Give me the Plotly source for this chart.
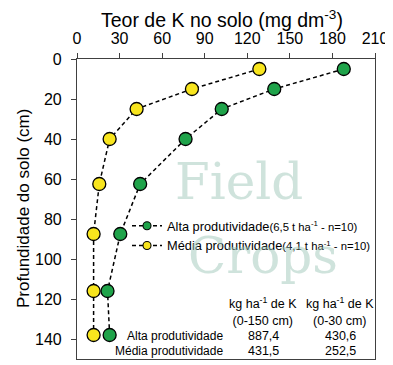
import plotly.graph_objects as go

# ---- data ----
depth_cm = [5, 15, 25, 40, 62.5, 87.5, 116, 138]
k_alta = [188, 139, 102, 76.5, 44.5, 30.5, 21.5, 23]
k_media = [128.5, 81, 42, 23, 15.7, 11.7, 11.7, 11.7]

series_names = [
    "Alta produtividade<span style='font-size:11.3px'>(6,5 t ha<sup>-1</sup> - n=10)</span>",
    "Média produtividade<span style='font-size:11.3px'>(4,1 t ha<sup>-1</sup> - n=10)</span>",
]
series_colors = ["#1fa34a", "#f8e51e"]

x_ticks = [0, 30, 60, 90, 120, 150, 180, 210]
y_ticks = [0, 20, 40, 60, 80, 100, 120, 140]

table_rows = ["Alta produtividade", "Média produtividade"]
table_headers = ["kg ha<sup>-1</sup> de K<br>(0-150 cm)", "kg ha<sup>-1</sup> de K<br>(0-30 cm)"]
k_total_0_150 = [887.4, 431.5]
k_total_0_30 = [430.6, 252.5]

FONT = "Liberation Sans, Arial, sans-serif"

fig = go.Figure()
for vals, name, col in [(k_alta, series_names[0], series_colors[0]),
                        (k_media, series_names[1], series_colors[1])]:
    fig.add_trace(go.Scatter(
        x=vals, y=depth_cm, name=name, mode="lines+markers", showlegend=False,
        line=dict(color="black", width=1.5, dash="4px,3px"),
        marker=dict(size=13, color=col, line=dict(color="black", width=1.3)),
    ))
# legend entries (smaller glyph markers, as in the original legend)
for name, col in zip(series_names, series_colors):
    fig.add_trace(go.Scatter(
        x=[None], y=[None], name=name, mode="lines+markers", showlegend=True,
        line=dict(color="black", width=1.5, dash="4px,3px"),
        marker=dict(size=8, color=col, line=dict(color="black", width=1.1)),
    ))

OFF = 8  # page body margin
W, H = 393 - OFF, 365 - OFF
# plot area in page pixels: x 77..375, y 59..359
ml, mt = 77 - OFF, 59 - OFF
mr, mb = 393 - 375, 365 - 359
pw, ph = W - ml - mr, H - mt - mb

def px(xp):  # page pixel -> paper
    return (xp - OFF - ml) / pw

def py(yp):
    return 1 - (yp - OFF - mt) / ph

annotations = []
wm = dict(family="DejaVu Serif", size=50, color="rgba(160,200,185,0.5)")
annotations.append(dict(text="Field", x=px(239), y=py(182), xanchor="center", yanchor="middle",
                        xref="paper", yref="paper", showarrow=False, font=wm))
annotations.append(dict(text="Crops", x=px(263), y=py(256), xanchor="center", yanchor="middle",
                        xref="paper", yref="paper", showarrow=False, font=wm))
annotations.append(dict(text="Teor de K no solo (mg dm<sup>-3</sup>)", x=px(222), y=py(19),
                        xanchor="center", yanchor="middle",
                        xref="paper", yref="paper", showarrow=False,
                        font=dict(family=FONT, size=19.5, color="black")))
annotations.append(dict(text="Profundidade do solo (cm)", x=px(23), y=py(209), textangle=-90,
                        xanchor="center", yanchor="middle",
                        xref="paper", yref="paper", showarrow=False,
                        font=dict(family=FONT, size=17, color="black")))
col_x = [263, 340]
for cx, hdr in zip(col_x, table_headers):
    annotations.append(dict(text=hdr, x=px(cx), y=py(311), xanchor="center", yanchor="middle",
                            xref="paper", yref="paper",
                            showarrow=False, font=dict(family=FONT, size=12.5, color="black")))
row_y = [336, 351]
for ry, name, v1, v2 in zip(row_y, table_rows, k_total_0_150, k_total_0_30):
    annotations.append(dict(text=name, x=px(225), y=py(ry), xref="paper", yref="paper",
                            xanchor="right", yanchor="middle", showarrow=False,
                            font=dict(family=FONT, size=12, color="black")))
    for cx, v in zip(col_x, (v1, v2)):
        annotations.append(dict(text=f"{v:.1f}".replace(".", ","), x=px(cx), y=py(ry),
                                xanchor="center", yanchor="middle", xref="paper",
                                yref="paper", showarrow=False, font=dict(family=FONT, size=12.5, color="black")))

fig.update_layout(
    width=W, height=H,
    margin=dict(l=ml, r=mr, t=mt, b=mb, autoexpand=False),
    paper_bgcolor="white", plot_bgcolor="white",
    font=dict(family=FONT, size=13, color="black"),
    showlegend=True,
    legend=dict(x=px(127), y=py(211), xanchor="left", yanchor="top",
                bgcolor="rgba(0,0,0,0)", font=dict(family=FONT, size=12.8, color="black"),
                tracegroupgap=0, itemwidth=30),
    annotations=annotations,
    xaxis=dict(side="top", range=[0, 210], tickvals=x_ticks, ticks="outside", ticklen=5,
               tickcolor="#404040", showline=True, linecolor="#404040", linewidth=1.2, mirror=True,
               showgrid=False, zeroline=False, tickfont=dict(size=16), automargin=False,
               ticklabelstandoff=3),
    yaxis=dict(range=[150, 0], tickvals=y_ticks, ticks="outside", ticklen=5,
               tickcolor="#404040", showline=True, linecolor="#404040", linewidth=1.2, mirror=True,
               showgrid=False, zeroline=False, tickfont=dict(size=16), automargin=False,
               ticklabelstandoff=6),
)

fig.write_html("out.html")
